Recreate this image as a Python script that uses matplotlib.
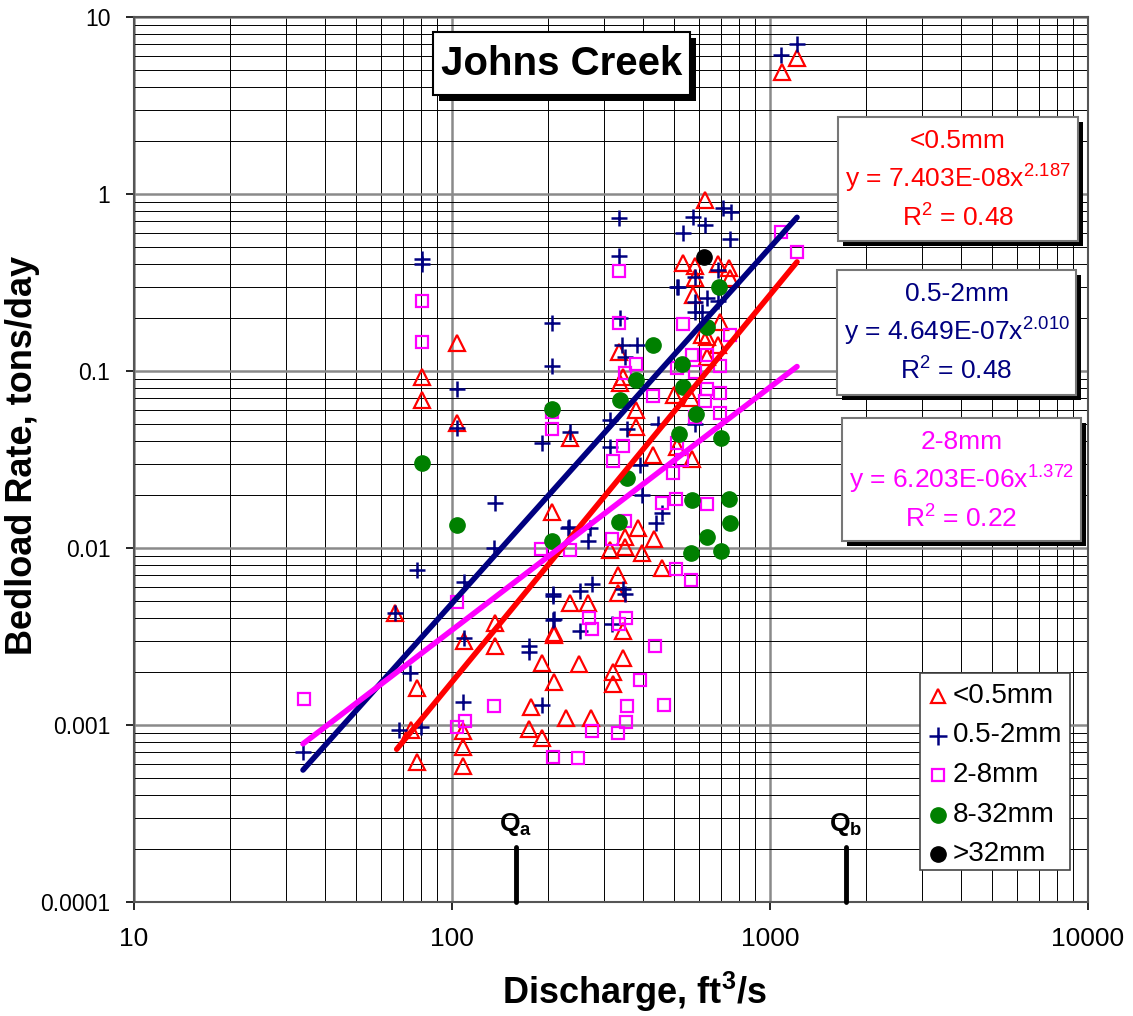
import matplotlib
matplotlib.use("Agg")
import matplotlib.pyplot as plt
import numpy as np
from matplotlib.patches import Rectangle
from matplotlib.lines import Line2D
from matplotlib.ticker import LogLocator, FixedLocator, NullFormatter

plt.rcParams['font.family'] = ['Liberation Sans', 'DejaVu Sans']
plt.rcParams['mathtext.default'] = 'regular'
plt.rcParams['mathtext.fontset'] = 'custom'
plt.rcParams['mathtext.rm'] = 'Liberation Sans'
plt.rcParams['mathtext.bf'] = 'Liberation Sans:bold'

# ---- data (discharge ft3/s, bedload tons/day) ----
red_x = [1091, 1216, 625, 80.5, 80.5, 103.7, 103.7, 235, 206,
         66.2, 137, 235, 209, 109, 137, 192, 209, 250, 77.6, 177, 175, 192, 74.4, 108.5, 108.5, 108.5, 77.6,
         532, 581, 686, 743, 581, 750, 573, 697, 611, 634, 686, 634,
         335, 345, 337, 379, 379, 499, 565, 429, 569, 510,
         314, 350, 396, 384, 432, 350, 457, 333, 333, 268, 345, 209, 229, 274, 322, 322, 345]
red_y = [4.89, 5.87, 0.925, 0.0925, 0.0686, 0.144, 0.0508, 0.0418, 0.016,
         0.0043, 0.00377, 0.0049, 0.00323, 0.003, 0.00279, 0.00224, 0.00175, 0.0022, 0.00162, 0.00127, 0.00095, 0.00084, 0.00094, 0.00093, 0.00075, 0.00059, 0.00062,
         0.407, 0.39, 0.4, 0.38, 0.335, 0.335, 0.268, 0.189, 0.16, 0.155, 0.14, 0.12,
         0.128, 0.0925, 0.085, 0.06, 0.0483, 0.073, 0.07, 0.0335, 0.032, 0.037,
         0.00975, 0.0101, 0.0094, 0.013, 0.0112, 0.0116, 0.0077, 0.007, 0.0056, 0.0049, 0.0034, 0.0033, 0.0011, 0.0011, 0.0020, 0.0017, 0.0024]

blue_x = [1084, 1216, 80.5, 80.5, 206, 206, 103.7, 103.7, 235, 192, 137,
          233, 136, 77.6, 109, 66.2, 208, 209, 109, 175, 175, 73.8, 108.5, 192, 68.1, 80, 34,
          573, 625, 711, 754, 532, 750, 335, 335,
          686, 581, 510, 515, 634, 581, 581, 611, 686, 337, 342, 382, 350,
          314, 355, 445, 581, 314, 390,
          232, 272, 268, 457, 438, 396, 345, 350, 275, 253, 208, 208, 253, 318]
blue_y = [6.1, 7.04, 0.43, 0.40, 0.187, 0.107, 0.079, 0.0476, 0.045, 0.0392, 0.0179,
          0.0131, 0.0100, 0.0075, 0.0064, 0.0043, 0.00536, 0.00397, 0.0031, 0.0028, 0.0026, 0.00197, 0.00135, 0.0013, 0.00094, 0.00097, 0.0007,
          0.74, 0.668, 0.834, 0.79, 0.602, 0.557, 0.732, 0.447,
          0.372, 0.34, 0.298, 0.298, 0.258, 0.244, 0.215, 0.215, 0.25, 0.199, 0.14, 0.14, 0.12,
          0.053, 0.047, 0.05, 0.05, 0.037, 0.0294,
          0.013, 0.013, 0.011, 0.0158, 0.0138, 0.02, 0.0059, 0.0055, 0.0063, 0.0057, 0.0055, 0.0039, 0.0034, 0.0037]

mag_x = [1084, 1216, 80.5, 80.5, 206, 206, 190, 235, 104, 34.2, 136, 208, 249, 104, 110,
         335, 335, 532, 750, 569, 634, 697, 379, 350, 581, 510, 634, 697, 697, 625, 429, 581, 345, 321, 510, 495, 528,
         350, 457, 506, 634, 318, 506, 565, 270, 275, 335, 352, 356, 352, 333, 390, 435, 465, 275]
mag_y = [0.61, 0.47, 0.248, 0.146, 0.0586, 0.047, 0.00987, 0.0098, 0.00495, 0.0014, 0.00128, 0.00066, 0.00065, 0.00097, 0.00106,
         0.367, 0.187, 0.184, 0.16, 0.123, 0.123, 0.107, 0.11, 0.0974, 0.099, 0.104, 0.079, 0.075, 0.058, 0.068, 0.072, 0.055, 0.0377, 0.031, 0.039, 0.0265, 0.0315,
         0.0143, 0.0179, 0.0188, 0.0178, 0.0113, 0.0076, 0.0066, 0.004, 0.0035, 0.0037, 0.004, 0.00128, 0.00104, 0.0009, 0.0018, 0.0028, 0.0013, 0.00092]

green_x = [80.5, 103.7, 206, 206, 692, 632, 429, 528, 379, 532, 337, 585, 517, 701, 355, 335, 569, 743, 750, 634, 565, 701]
green_y = [0.0302, 0.0135, 0.061, 0.011, 0.298, 0.177, 0.14, 0.11, 0.089, 0.081, 0.0686, 0.057, 0.044, 0.042, 0.025, 0.014, 0.0187, 0.019, 0.0138, 0.0115, 0.0094, 0.0096]

black_x = [620]
black_y = [0.44]

# power-law fits  y = a * x^b  (coefficient, exponent, R2, x-range)
fit_red = (7.403e-08, 2.187, 0.48, 67, 1216)
fit_blue = (4.649e-07, 2.010, 0.48, 34, 1216)
fit_mag = (6.203e-06, 1.372, 0.22, 34, 1216)

Qa, Qb = 159, 1734

legend_labels = ['<0.5mm', '0.5-2mm', '2-8mm', '8-32mm', '>32mm']

W, H = 1133, 1016
fig = plt.figure(figsize=(W / 100, H / 100), dpi=100)
ax = fig.add_axes([134 / W, 1 - 902 / H, (1088 - 134) / W, (902 - 17) / H])
ax.set_xscale('log')
ax.set_yscale('log')
ax.set_xlim(10, 10000)
ax.set_ylim(0.0001, 10)

ax.xaxis.set_minor_locator(LogLocator(base=10, subs=np.arange(2, 10)))
ax.yaxis.set_minor_locator(LogLocator(base=10, subs=np.arange(2, 10)))
ax.xaxis.set_minor_formatter(NullFormatter())
ax.yaxis.set_minor_formatter(NullFormatter())
ax.xaxis.set_major_locator(FixedLocator([10, 100, 1000, 10000]))
ax.yaxis.set_major_locator(FixedLocator([0.0001, 0.001, 0.01, 0.1, 1, 10]))
ax.set_xticklabels(['10', '100', '1000', '10000'])
ax.set_yticklabels(['0.0001', '0.001', '0.01', '0.1', '1', '10'])
ax.tick_params(which='major', direction='out', length=6, width=1.2)
ax.tick_params(axis='x', labelsize=19, pad=12)
ax.tick_params(axis='y', labelsize=16.5, pad=11)
ax.tick_params(which='minor', length=0)
ax.grid(which='minor', color='black', lw=0.7)
ax.grid(which='major', color='#8a8a8a', lw=1.8)
ax.set_axisbelow(True)
for s in ax.spines.values():
    s.set_color('#555555')
    s.set_linewidth(1.5)

ms = 10
ax.plot(red_x, red_y, ls='none', marker='^', ms=ms + 1, mfc='none', mec='red', mew=1.6, zorder=3)
ax.plot(blue_x, blue_y, ls='none', marker='+', ms=ms + 2, mec='#000080', mew=1.8, zorder=3)
ax.plot(mag_x, mag_y, ls='none', marker='s', ms=ms - 1, mfc='none', mec='#ff00ff', mew=1.6, zorder=3)
ax.plot(green_x, green_y, ls='none', marker='o', ms=ms + 1, mfc='#008000', mec='#008000', zorder=3)
ax.plot(black_x, black_y, ls='none', marker='o', ms=ms + 1, mfc='black', mec='black', zorder=3)

for (a, b, r2, x0, x1), col in [(fit_blue, '#000080'), (fit_red, 'red'), (fit_mag, '#ff00ff')]:
    xx = np.array([x0, x1])
    ax.plot(xx, a * xx ** b, color=col, lw=4, solid_capstyle='round', zorder=4)

# Qa / Qb markers
for q, lab in [(Qa, 'a'), (Qb, 'b')]:
    ax.plot([q, q], [0.0001, 0.000205], color='black', lw=3.5, solid_capstyle='round', zorder=5, clip_on=False)
    ax.text(q, 0.00023, r'$\mathbf{Q_{%s}}$' % lab, ha='center', va='bottom', fontsize=19, zorder=5)

ax.set_xlabel('Discharge, ft$^{3}$/s', fontsize=26, fontweight='bold')
ax.set_ylabel('Bedload Rate, tons/day', fontsize=26, fontweight='bold')
ax.xaxis.set_label_coords((634 - 134) / 954, (902 - 970) / 885)
ax.yaxis.set_label_coords((40 - 134) / 954, (902 - 455) / 885)


def box(x0, y0, x1, y1, sh, edge, lw=1.5):
    # boxes in pixel coordinates (top-left origin), with drop shadow
    if sh:
        fig.patches.append(Rectangle(((x0 + sh) / W, 1 - (y1 + sh) / H), (x1 - x0) / W, (y1 - y0) / H,
                                     transform=fig.transFigure, facecolor='black', edgecolor='none', zorder=10))
    fig.patches.append(Rectangle((x0 / W, 1 - y1 / H), (x1 - x0) / W, (y1 - y0) / H,
                                 transform=fig.transFigure, facecolor='white', edgecolor=edge, lw=lw, zorder=11))


box(433, 32, 690, 95, 6, 'black')
fig.text((433 + 690) / 2 / W, 1 - 64 / H, 'Johns Creek', ha='center', va='center',
         fontsize=29, fontweight='bold', zorder=12)

eq_boxes = [
    (838, 117, 1078, 241, '<0.5mm', fit_red, 'red'),
    (837, 270, 1076, 395, '0.5-2mm', fit_blue, '#000080'),
    (842, 418, 1081, 541, '2-8mm', fit_mag, '#ff00ff'),
]
for x0, y0, x1, y1, name, (a, b, r2, _, _), col in eq_boxes:
    box(x0, y0, x1, y1, 5, '#777777')
    cx = (x0 + x1) / 2 / W
    mant, ex = ('%.3E' % a).split('E')
    ex = ex[0] + ex[1:].zfill(2)
    fig.text(cx, 1 - (y0 + 24) / H, name, ha='center', va='center', color=col, fontsize=19, zorder=12)
    fig.text(cx, 1 - (y0 + 62) / H, 'y = %sE%sx$^{%.3f}$' % (mant, ex, b), ha='center', va='center',
             color=col, fontsize=19, zorder=12)
    fig.text(cx, 1 - (y0 + 101) / H, 'R$^{2}$ = %.2f' % r2, ha='center', va='center', color=col,
             fontsize=19, zorder=12)

# legend box drawn by hand to match position and spacing
box(920, 673, 1070, 870, 0, '#444444', lw=1.2)
leg_styles = [
    dict(marker='^', ms=10, mfc='none', mec='red', mew=1.6),
    dict(marker='+', ms=13, mec='#000080', mew=1.8),
    dict(marker='s', ms=9, mfc='none', mec='#ff00ff', mew=1.6),
    dict(marker='o', ms=11, mfc='#008000', mec='#008000'),
    dict(marker='o', ms=11, mfc='black', mec='black'),
]
for i, (lab, st) in enumerate(zip(legend_labels, leg_styles)):
    yy = 1 - (696 + 39.5 * i) / H
    fig.add_artist(Line2D([938 / W], [yy], ls='none', transform=fig.transFigure, zorder=12, **st))
    fig.text(953 / W, yy, lab, ha='left', va='center', fontsize=20, zorder=12)

fig.savefig('out.png', dpi=100)
